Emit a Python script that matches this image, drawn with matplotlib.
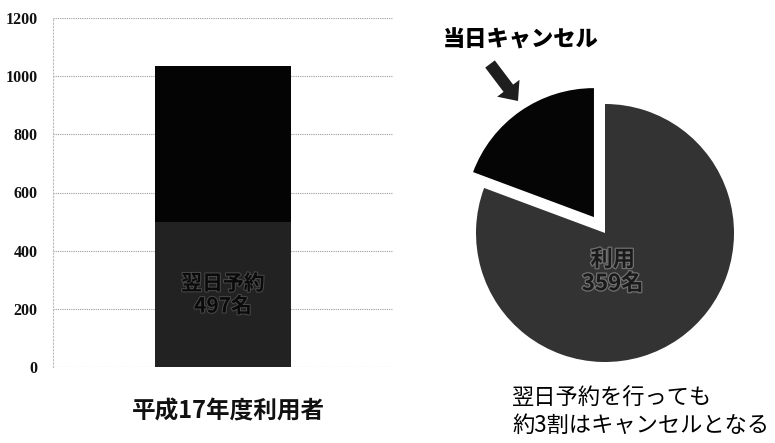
import matplotlib
matplotlib.use("Agg")
import matplotlib.pyplot as plt
import matplotlib.patheffects as pe
from matplotlib.patches import FancyArrow
from matplotlib.transforms import IdentityTransform

plt.rcParams['font.family'] = ['Noto Sans CJK JP', 'DejaVu Sans']

# --- data ---
bar_category = ["平成17年度利用者"]
next_day_reservation = [497]      # 翌日予約
other_users = [537]               # remaining users stacked above
y_ticks = [0, 200, 400, 600, 800, 1000, 1200]

pie_labels = ["当日キャンセル", "利用"]
pie_values = [86, 359]

W, H = 775, 443
fig = plt.figure(figsize=(W / 100, H / 100), dpi=100)
fig.patch.set_facecolor("white")

def fx(px):
    return px / W

def fy(py):
    return 1 - py / H

# --- stacked bar ---
axb = fig.add_axes([fx(53), fy(367), (393 - 53) / W, (367 - 18) / H])
x = [0]
axb.bar(x, next_day_reservation, width=0.4, color="#222222", zorder=3)
axb.bar(x, other_users, bottom=next_day_reservation, width=0.4,
        color="#040404", zorder=3)
axb.set_xlim(-0.5, 0.5)
axb.set_ylim(0, 1200)
axb.set_yticks(y_ticks)
axb.set_yticklabels([str(t) for t in y_ticks], family="Liberation Serif",
                    fontweight="bold", fontsize=11.5, color="#111111")
axb.set_xticks([])
axb.tick_params(axis="y", length=0, pad=11)
axb.grid(axis="y", linestyle=(0, (1, 1)), color="#9a9a9a", linewidth=0.8, zorder=0)
for s in ["top", "right", "bottom"]:
    axb.spines[s].set_visible(False)
axb.spines["left"].set_linestyle((0, (1, 2)))
axb.spines["left"].set_color("#bbbbbb")
axb.spines["left"].set_linewidth(0.8)

axb.text(0, next_day_reservation[0] / 2, f"翌日予約\n{next_day_reservation[0]}名",
         ha="center", va="center", fontsize=15, fontweight="bold",
         color="#0a0a0a", linespacing=1.1, zorder=4,
         path_effects=[pe.withStroke(linewidth=1.4, foreground="#4a4a4a")])

fig.text(fx(228), fy(411), bar_category[0], ha="center", va="center",
         fontsize=17, fontweight="bold", color="#111111")

# --- pie ---
R = 129
cx, cy = 605, 233
lim = 1.2
side = R * lim * 2
axp = fig.add_axes([fx(cx - side / 2), fy(cy + side / 2), side / W, side / H])
axp.pie(pie_values, startangle=90, counterclock=True,
        colors=["#050505", "#333333"], explode=[0.15, 0],
        wedgeprops=dict(linewidth=0))
axp.set_xlim(-lim, lim)
axp.set_ylim(-lim, lim)
axp.axis("off")

axp.text(0.06, -0.3, f"{pie_labels[1]}\n{pie_values[1]}名", ha="center",
         va="center", fontsize=16, fontweight="bold", color="#1a1a1a",
         linespacing=1.05,
         path_effects=[pe.withStroke(linewidth=1.8, foreground="#707070")])

fig.text(fx(443), fy(40), pie_labels[0], ha="left", va="center",
         fontsize=16, fontweight="heavy", color="#000000")

# arrow in pixel coordinates (origin at bottom-left)
x0, y0 = 490, H - 64
x1, y1 = 518, H - 101
arrow = FancyArrow(x0, y0, x1 - x0, y1 - y0,
                   width=12, head_width=28, head_length=16,
                   length_includes_head=True, transform=IdentityTransform(),
                   color="#1e1e1e", linewidth=0)
fig.patches.append(arrow)

fig.text(fx(512), fy(398), "翌日予約を行っても", ha="left", va="center",
         fontsize=16, color="#000000")
fig.text(fx(512), fy(425), "約3割はキャンセルとなる", ha="left", va="center",
         fontsize=16, color="#000000")

fig.savefig("out.png", dpi=100, facecolor="white")
